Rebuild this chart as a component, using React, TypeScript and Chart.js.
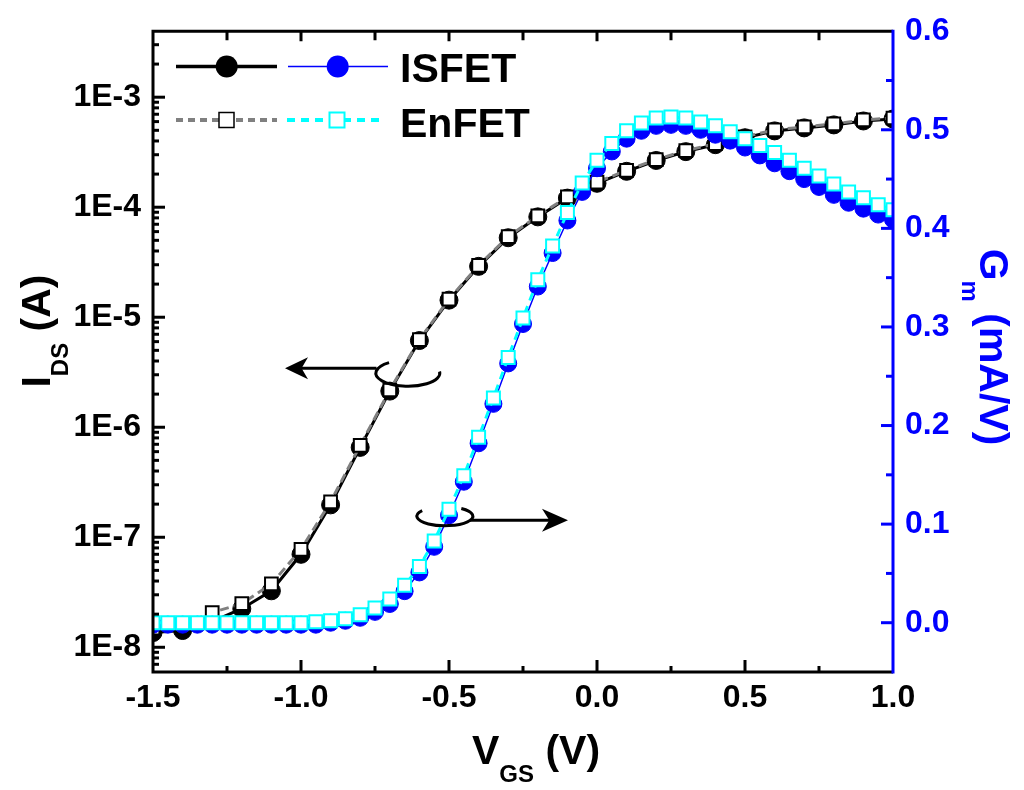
import React, { useEffect, useRef } from "react";
import { Chart, registerables } from "chart.js";

Chart.register(...registerables);

// ---------------- data ----------------
const vgsIds = [-1.5, -1.4, -1.3, -1.2, -1.1, -1.0, -0.9, -0.8, -0.7, -0.6, -0.5, -0.4, -0.3, -0.2, -0.1, 0.0, 0.1, 0.2, 0.3, 0.4, 0.5, 0.6, 0.7, 0.8, 0.9, 1.0];
const idsIsfet = [1.36e-8, 1.42e-8, 1.71e-8, 2.24e-8, 3.26e-8, 7.0e-8, 1.97e-7, 6.56e-7, 2.13e-6, 6.14e-6, 1.43e-5, 2.9e-5, 5.28e-5, 8.17e-5, 1.21e-4, 1.65e-4, 2.12e-4, 2.66e-4, 3.2e-4, 3.7e-4, 4.28e-4, 4.94e-4, 5.26e-4, 5.6e-4, 6.08e-4, 6.34e-4];
const idsEnfet = [1.49e-8, 1.61e-8, 2.07e-8, 2.49e-8, 3.77e-8, 7.76e-8, 2.1e-7, 6.84e-7, 2.18e-6, 6.27e-6, 1.46e-5, 2.96e-5, 5.4e-5, 8.34e-5, 1.24e-4, 1.69e-4, 2.16e-4, 2.71e-4, 3.27e-4, 3.78e-4, 4.37e-4, 5.05e-4, 5.37e-4, 5.72e-4, 6.21e-4, 6.47e-4];

const vgsGm = [-1.5, -1.45, -1.4, -1.35, -1.3, -1.25, -1.2, -1.15, -1.1, -1.05, -1.0, -0.95, -0.9, -0.85, -0.8, -0.75, -0.7, -0.65, -0.6, -0.55, -0.5, -0.45, -0.4, -0.35, -0.3, -0.25, -0.2, -0.15, -0.1, -0.05, 0.0, 0.05, 0.1, 0.15, 0.2, 0.25, 0.3, 0.35, 0.4, 0.45, 0.5, 0.55, 0.6, 0.65, 0.7, 0.75, 0.8, 0.85, 0.9, 0.95, 1.0];
const gmIsfet = [-0.002, -0.002, -0.002, -0.002, -0.002, -0.002, -0.002, -0.002, -0.002, -0.002, -0.002, -0.002, 0.0, 0.002, 0.005, 0.011, 0.019, 0.032, 0.051, 0.077, 0.109, 0.143, 0.182, 0.222, 0.263, 0.303, 0.341, 0.375, 0.408, 0.437, 0.461, 0.478, 0.491, 0.499, 0.504, 0.505, 0.504, 0.5, 0.495, 0.489, 0.482, 0.474, 0.466, 0.458, 0.45, 0.442, 0.434, 0.426, 0.42, 0.414, 0.409];
const gmEnfet = [0.0, 0.0, 0.0, 0.0, 0.0, 0.0, 0.0, 0.0, 0.0, 0.0, 0.0, 0.001, 0.002, 0.004, 0.008, 0.015, 0.024, 0.038, 0.057, 0.083, 0.115, 0.149, 0.188, 0.228, 0.269, 0.309, 0.348, 0.382, 0.416, 0.446, 0.469, 0.486, 0.499, 0.507, 0.512, 0.513, 0.512, 0.508, 0.504, 0.498, 0.491, 0.484, 0.477, 0.469, 0.461, 0.453, 0.445, 0.437, 0.431, 0.424, 0.419];

const xTicks = [-1.5, -1.0, -0.5, 0.0, 0.5, 1.0];
const xMinorTicks = [-1.25, -0.75, -0.25, 0.25, 0.75];
const idsTicks = [1e-8, 1e-7, 1e-6, 1e-5, 1e-4, 1e-3];
const gmTicks = [0.0, 0.1, 0.2, 0.3, 0.4, 0.5, 0.6];
const gmMinorTicks = [0.05, 0.15, 0.25, 0.35, 0.45, 0.55];

const seriesNames = ["ISFET", "EnFET"];

// ---------------- style ----------------
const FONT = '"Liberation Sans", Arial, Helvetica, sans-serif';
const BLUE = "#0000FF";
const CYAN = "#00FFFF";
const GRAY = "#808080";
const BLACK = "#000000";

type Run = { t: string; size: number; dy: number };

function runsWidth(ctx: CanvasRenderingContext2D, runs: Run[]) {
  let w = 0;
  for (const r of runs) {
    ctx.font = `bold ${r.size}px ${FONT}`;
    w += ctx.measureText(r.t).width;
  }
  return w;
}

function drawRuns(ctx: CanvasRenderingContext2D, runs: Run[], x: number, y: number) {
  let cx = x;
  for (const r of runs) {
    ctx.font = `bold ${r.size}px ${FONT}`;
    ctx.fillText(r.t, cx, y + r.dy);
    cx += ctx.measureText(r.t).width;
  }
}

function arrowHead(ctx: CanvasRenderingContext2D, tx: number, ty: number, dir: number, len: number, half: number) {
  ctx.beginPath();
  ctx.moveTo(tx, ty);
  ctx.lineTo(tx - dir * len, ty - half);
  ctx.lineTo(tx - dir * len * 0.72, ty);
  ctx.lineTo(tx - dir * len, ty + half);
  ctx.closePath();
  ctx.fill();
}

const decor = {
  id: "decor",
  afterDraw(chart: any) {
    const ctx: CanvasRenderingContext2D = chart.ctx;
    const { left, right, top, bottom } = chart.chartArea;
    const x = chart.scales.x;
    const y = chart.scales.y;
    const y1 = chart.scales.y1;
    ctx.save();
    ctx.lineCap = "butt";

    // ---- ticks ----
    ctx.strokeStyle = BLACK;
    ctx.lineWidth = 3;
    for (let e = -9; e <= -2; e++) {
      for (let m = 1; m <= 9; m++) {
        const v = m * Math.pow(10, e);
        if (v < y.min || v > y.max) continue;
        const py = y.getPixelForValue(v);
        if (py < top + 3 || py > bottom - 3) continue;
        const len = m === 1 ? 12 : 6;
        ctx.beginPath();
        ctx.moveTo(left, py);
        ctx.lineTo(left + len, py);
        ctx.stroke();
      }
    }
    const xt = [...xTicks.map((v) => [v, 12, 10]), ...xMinorTicks.map((v) => [v, 6, 9])];
    for (const [v, lb, lt] of xt) {
      const px = x.getPixelForValue(v);
      if (px < left + 3 || px > right - 3) continue;
      ctx.beginPath();
      ctx.moveTo(px, bottom);
      ctx.lineTo(px, bottom - lb);
      ctx.moveTo(px, top);
      ctx.lineTo(px, top + lt);
      ctx.stroke();
    }
    ctx.strokeStyle = BLUE;
    const rt = [...gmTicks.map((v) => [v, 12]), ...gmMinorTicks.map((v) => [v, 7])];
    for (const [v, l] of rt) {
      const py = y1.getPixelForValue(v);
      if (py < top + 3 || py > bottom - 3) continue;
      ctx.beginPath();
      ctx.moveTo(right, py);
      ctx.lineTo(right - l, py);
      ctx.stroke();
    }

    // ---- frame ----
    ctx.strokeStyle = BLACK;
    ctx.lineWidth = 3;
    ctx.beginPath();
    ctx.moveTo(right, top);
    ctx.lineTo(left, top);
    ctx.lineTo(left, bottom);
    ctx.lineTo(right, bottom);
    ctx.stroke();
    ctx.strokeStyle = BLUE;
    ctx.beginPath();
    ctx.moveTo(right, top - 1.5);
    ctx.lineTo(right, bottom + 1.5);
    ctx.stroke();

    // ---- arrows with ellipses ----
    ctx.strokeStyle = BLACK;
    ctx.fillStyle = BLACK;
    ctx.lineWidth = 3;
    {
      const ay = y.getPixelForValue(3.44e-6);
      const tip = x.getPixelForValue(-1.054);
      const tail = x.getPixelForValue(-0.745);
      ctx.beginPath();
      ctx.moveTo(tail, ay);
      ctx.lineTo(tip + 15, ay);
      ctx.stroke();
      arrowHead(ctx, tip, ay, -1, 23, 11);
      const cx = x.getPixelForValue(-0.639);
      const cy = y.getPixelForValue(3.1e-6);
      ctx.beginPath();
      ctx.ellipse(cx, cy, 32, 13, 0, 1.3 * Math.PI, -0.04 * Math.PI, true);
      ctx.stroke();
    }
    {
      const ay = y1.getPixelForValue(0.104);
      const tail = x.getPixelForValue(-0.43);
      const tip = x.getPixelForValue(-0.098);
      ctx.beginPath();
      ctx.moveTo(tail, ay);
      ctx.lineTo(tip - 16, ay);
      ctx.stroke();
      arrowHead(ctx, tip, ay, 1, 26, 11.5);
      const cx = x.getPixelForValue(-0.514);
      const cy = y1.getPixelForValue(0.108);
      ctx.beginPath();
      ctx.ellipse(cx, cy, 28, 9.5, 0, 1.2 * Math.PI, -0.3 * Math.PI, true);
      ctx.stroke();
    }

    // ---- legend ----
    const r1 = 66.5;
    const r2 = 120;
    ctx.setLineDash([]);
    ctx.strokeStyle = BLACK;
    ctx.lineWidth = 3.5;
    ctx.beginPath();
    ctx.moveTo(176, r1);
    ctx.lineTo(277, r1);
    ctx.stroke();
    ctx.fillStyle = BLACK;
    ctx.beginPath();
    ctx.arc(226.7, r1, 11, 0, Math.PI * 2);
    ctx.fill();
    ctx.strokeStyle = BLUE;
    ctx.lineWidth = 1.5;
    ctx.beginPath();
    ctx.moveTo(288, r1);
    ctx.lineTo(388, r1);
    ctx.stroke();
    ctx.fillStyle = BLUE;
    ctx.beginPath();
    ctx.arc(337.7, r1, 11, 0, Math.PI * 2);
    ctx.fill();
    ctx.lineWidth = 4;
    ctx.strokeStyle = GRAY;
    ctx.setLineDash([7, 5]);
    ctx.beginPath();
    ctx.moveTo(176, r2);
    ctx.lineTo(277, r2);
    ctx.stroke();
    ctx.strokeStyle = CYAN;
    ctx.setLineDash([8, 6]);
    ctx.beginPath();
    ctx.moveTo(287, r2);
    ctx.lineTo(384, r2);
    ctx.stroke();
    ctx.setLineDash([]);
    ctx.fillStyle = "#fff";
    ctx.fillRect(219, r2 - 7.5, 15, 15);
    ctx.strokeStyle = BLACK;
    ctx.lineWidth = 1.5;
    ctx.strokeRect(219, r2 - 7.5, 15, 15);
    ctx.fillRect(329.5, r2 - 7.5, 15, 15);
    ctx.strokeStyle = CYAN;
    ctx.lineWidth = 2;
    ctx.strokeRect(329.5, r2 - 7.5, 15, 15);
    ctx.fillStyle = BLACK;
    ctx.textAlign = "left";
    ctx.textBaseline = "alphabetic";
    ctx.font = `bold 41px ${FONT}`;
    ctx.fillText(seriesNames[0], 400, 82);
    ctx.fillText(seriesNames[1], 400, 137);

    // ---- axis titles ----
    const TS = 41;
    const SS = 24;
    const bRuns: Run[] = [
      { t: "V", size: TS, dy: 0 },
      { t: "GS", size: SS, dy: 18 },
      { t: " (V)", size: TS, dy: 0 },
    ];
    ctx.fillStyle = BLACK;
    const bw = runsWidth(ctx, bRuns);
    drawRuns(ctx, bRuns, 536 - bw / 2, 764);
    const lRuns: Run[] = [
      { t: "I", size: TS, dy: 0 },
      { t: "DS", size: SS, dy: 18 },
      { t: " (A)", size: TS, dy: 0 },
    ];
    const lw = runsWidth(ctx, lRuns);
    ctx.save();
    ctx.translate(50, 331);
    ctx.rotate(-Math.PI / 2);
    drawRuns(ctx, lRuns, -lw / 2, 0);
    ctx.restore();
    const rRuns: Run[] = [
      { t: "G", size: TS, dy: 0 },
      { t: "m", size: SS, dy: 18 },
      { t: " (mA/V)", size: TS, dy: 0 },
    ];
    ctx.fillStyle = BLUE;
    const rw = runsWidth(ctx, rRuns);
    ctx.save();
    ctx.translate(980, 347);
    ctx.rotate(Math.PI / 2);
    drawRuns(ctx, rRuns, -rw / 2, 0);
    ctx.restore();

    ctx.restore();
  },
};

export default function App() {
  const ref = useRef<HTMLCanvasElement | null>(null);

  useEffect(() => {
    const canvas = ref.current;
    if (!canvas) return;
    const tickFont = { family: FONT, size: 32, weight: "bold" as const };
    const chart = new Chart(canvas, {
      type: "line",
      data: {
        datasets: [
          {
            label: "ISFET I_DS",
            data: vgsIds.map((v, i) => ({ x: v, y: idsIsfet[i] })),
            yAxisID: "y",
            borderColor: BLACK,
            borderWidth: 3,
            pointStyle: "circle",
            pointRadius: 9,
            pointHoverRadius: 9,
            pointBackgroundColor: BLACK,
            pointBorderColor: BLACK,
            pointBorderWidth: 1,
            tension: 0,
            clip: 0,
            order: 4,
          },
          {
            label: "EnFET I_DS",
            data: vgsIds.map((v, i) => ({ x: v, y: idsEnfet[i] })),
            yAxisID: "y",
            borderColor: GRAY,
            borderWidth: 3,
            borderDash: [9, 5],
            pointStyle: "rect",
            pointRadius: 9,
            pointHoverRadius: 9,
            pointBackgroundColor: "#ffffff",
            pointBorderColor: BLACK,
            pointBorderWidth: 2,
            tension: 0,
            clip: 0,
            order: 3,
          },
          {
            label: "ISFET Gm",
            data: vgsGm.map((v, i) => ({ x: v, y: gmIsfet[i] })),
            yAxisID: "y1",
            borderColor: BLUE,
            borderWidth: 1.5,
            pointStyle: "circle",
            pointRadius: 8.5,
            pointHoverRadius: 8.5,
            pointBackgroundColor: BLUE,
            pointBorderColor: BLUE,
            pointBorderWidth: 1,
            tension: 0,
            clip: 0,
            order: 2,
          },
          {
            label: "EnFET Gm",
            data: vgsGm.map((v, i) => ({ x: v, y: gmEnfet[i] })),
            yAxisID: "y1",
            borderColor: CYAN,
            borderWidth: 3,
            borderDash: [8, 6],
            pointStyle: "rect",
            pointRadius: 9.2,
            pointHoverRadius: 9.2,
            pointBackgroundColor: "#ffffff",
            pointBorderColor: CYAN,
            pointBorderWidth: 2,
            tension: 0,
            clip: 0,
            order: 1,
          },
        ],
      },
      options: {
        animation: false,
        responsive: false,
        events: [],
        layout: { padding: { top: 23, left: 0, right: 0, bottom: 0 } },
        plugins: { legend: { display: false }, tooltip: { enabled: false }, title: { display: false } },
        scales: {
          x: {
            type: "linear",
            position: "bottom",
            min: -1.5,
            max: 1.0,
            afterBuildTicks: (s: any) => {
              s.ticks = xTicks.map((v) => ({ value: v }));
            },
            afterFit: (s: any) => {
              s.height = 118;
            },
            ticks: {
              callback: (v: any) => Number(v).toFixed(1),
              font: tickFont,
              color: BLACK,
              padding: 7,
              autoSkip: false,
              maxRotation: 0,
            },
            grid: { display: false, drawTicks: false, tickLength: 0 },
            border: { display: false },
          },
          y: {
            type: "logarithmic",
            position: "left",
            min: 5.96e-9,
            max: 3.98e-3,
            afterBuildTicks: (s: any) => {
              s.ticks = idsTicks.map((v) => ({ value: v, major: true }));
            },
            afterFit: (s: any) => {
              s.width = 153;
            },
            ticks: {
              callback: (v: any) => "1E" + Math.round(Math.log10(Number(v))),
              font: tickFont,
              color: BLACK,
              padding: 12,
              autoSkip: false,
            },
            grid: { display: false, drawTicks: false, tickLength: 0 },
            border: { display: false },
          },
          y1: {
            type: "linear",
            position: "right",
            min: -0.05,
            max: 0.6,
            afterBuildTicks: (s: any) => {
              s.ticks = gmTicks.map((v) => ({ value: v }));
            },
            afterFit: (s: any) => {
              s.width = 131;
            },
            ticks: {
              callback: (v: any) => Number(v).toFixed(1),
              font: tickFont,
              color: BLUE,
              padding: 12,
              autoSkip: false,
            },
            grid: { display: false, drawTicks: false, tickLength: 0 },
            border: { display: false },
          },
        },
      } as any,
      plugins: [decor],
    });
    return () => chart.destroy();
  }, []);

  return (
    <div style={{ position: "fixed", left: 0, top: 0, width: 1024, height: 790, background: "#ffffff" }}>
      <canvas ref={ref} width={1024} height={790} style={{ display: "block", width: 1024, height: 790 }} />
    </div>
  );
}
